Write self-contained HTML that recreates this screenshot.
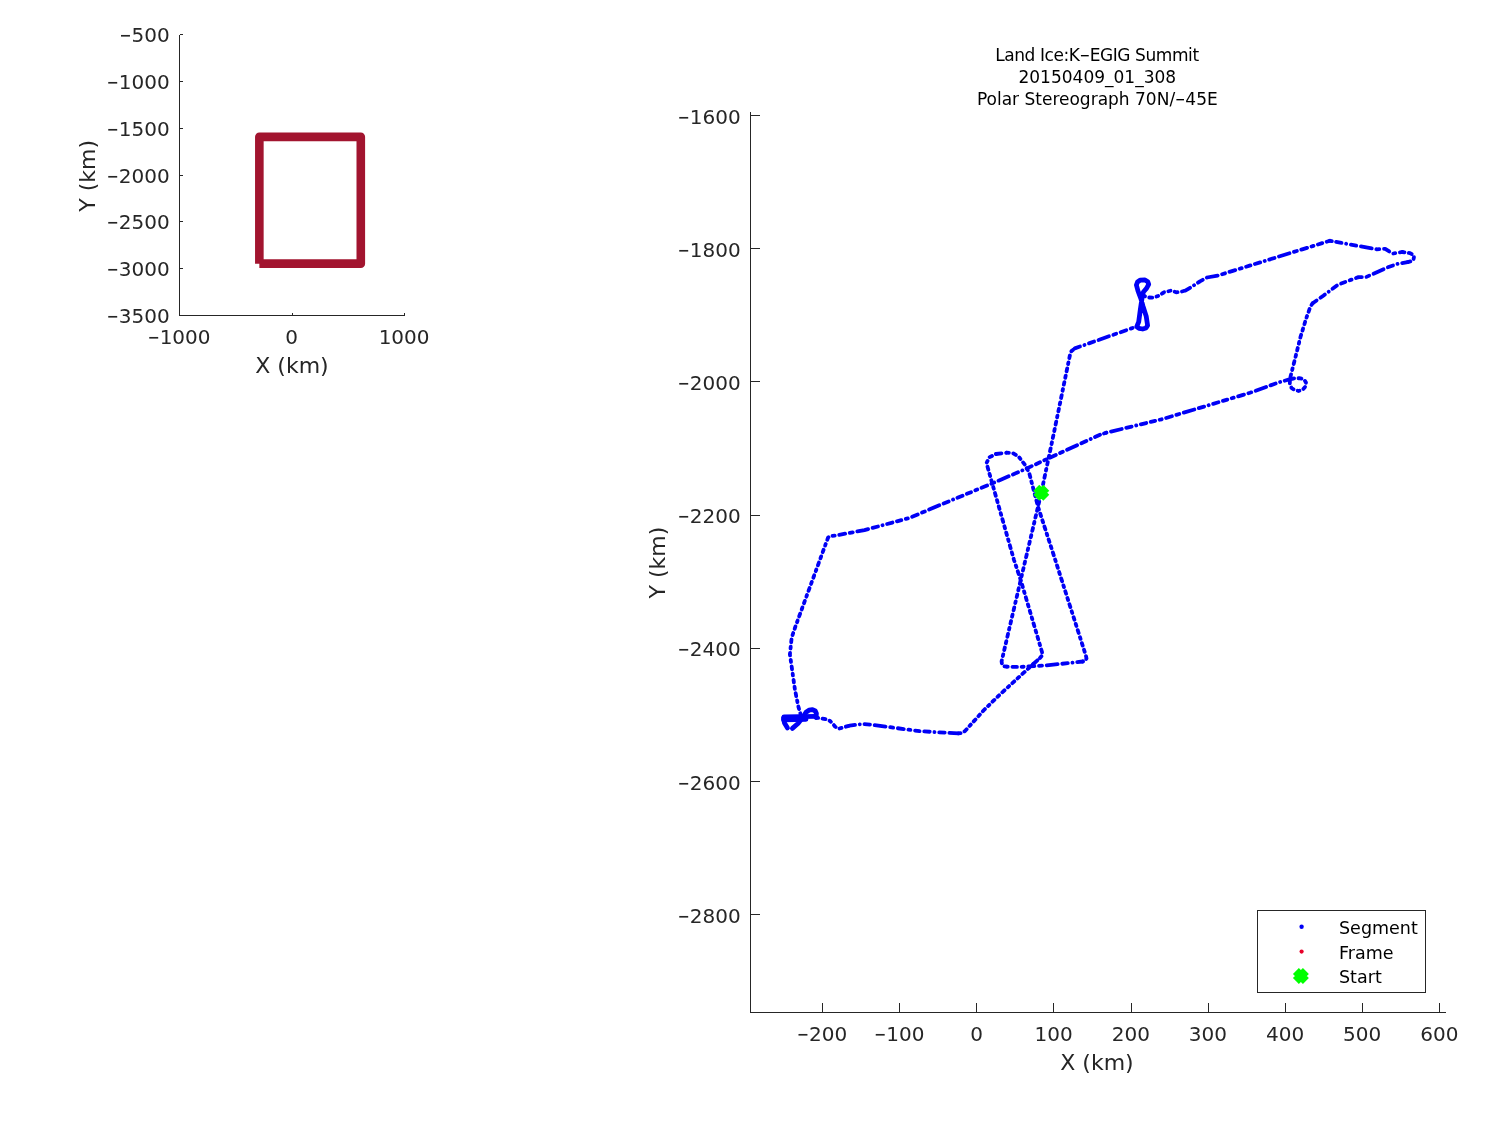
<!DOCTYPE html>
<html lang="en"><head><meta charset="utf-8"><title>Land Ice: K-EGIG Summit 20150409_01_308</title>
<style>
html,body{margin:0;padding:0;background:#fff;}
body{width:1500px;height:1125px;overflow:hidden;}
svg{display:block;}
text{font-family:"DejaVu Sans", "Liberation Sans", sans-serif;fill:#262626;}
.tk{font-size:20px;}
.lb{font-size:22px;}
.tt{font-size:17px;fill:#000;}
.lg{font-size:17.5px;fill:#000;}
.ax{stroke:#262626;stroke-width:1;fill:none;shape-rendering:crispEdges;}
.tl{fill:none;stroke:#0000f6;stroke-width:3.8;stroke-linecap:round;stroke-linejoin:round;stroke-dasharray:5.5 4.7 0.1 4.7 5.5 4.7 11 4.7 3 4.7 6 4.7 2 4.7 4.5 4.7;}
.ts{fill:none;stroke:#0000f6;stroke-width:3.8;stroke-linecap:round;stroke-linejoin:round;stroke-dasharray:2.2 4.4 3 4.4 1.8 4.4 2.6 4.4;}
.trs{fill:none;stroke:#0000f6;stroke-width:4.8;stroke-linecap:round;stroke-linejoin:round;}
</style></head><body>
<svg width="1500" height="1125" viewBox="0 0 1500 1125">
<rect x="0" y="0" width="1500" height="1125" fill="#ffffff"/>
<g id="overview">
<path class="ax" d="M179.5,34.5 V315.5 H404.5"/>
<path class="ax" d="M179.5,34.5 h3"/>
<text class="tk" x="169.7" y="42.0" text-anchor="end"><tspan textLength="12.0" lengthAdjust="spacingAndGlyphs">−</tspan>500</text>
<path class="ax" d="M179.5,81.3 h3"/>
<text class="tk" x="169.7" y="88.8" text-anchor="end"><tspan textLength="12.0" lengthAdjust="spacingAndGlyphs">−</tspan>1000</text>
<path class="ax" d="M179.5,128.2 h3"/>
<text class="tk" x="169.7" y="135.7" text-anchor="end"><tspan textLength="12.0" lengthAdjust="spacingAndGlyphs">−</tspan>1500</text>
<path class="ax" d="M179.5,175.0 h3"/>
<text class="tk" x="169.7" y="182.5" text-anchor="end"><tspan textLength="12.0" lengthAdjust="spacingAndGlyphs">−</tspan>2000</text>
<path class="ax" d="M179.5,221.8 h3"/>
<text class="tk" x="169.7" y="229.3" text-anchor="end"><tspan textLength="12.0" lengthAdjust="spacingAndGlyphs">−</tspan>2500</text>
<path class="ax" d="M179.5,268.7 h3"/>
<text class="tk" x="169.7" y="276.2" text-anchor="end"><tspan textLength="12.0" lengthAdjust="spacingAndGlyphs">−</tspan>3000</text>
<path class="ax" d="M179.5,315.5 h3"/>
<text class="tk" x="169.7" y="323.0" text-anchor="end"><tspan textLength="12.0" lengthAdjust="spacingAndGlyphs">−</tspan>3500</text>
<path class="ax" d="M179.5,315.5 v-3"/>
<text class="tk" x="179.1" y="344" text-anchor="middle"><tspan textLength="12.0" lengthAdjust="spacingAndGlyphs">−</tspan>1000</text>
<path class="ax" d="M292.0,315.5 v-3"/>
<text class="tk" x="291.6" y="344" text-anchor="middle">0</text>
<path class="ax" d="M404.5,315.5 v-3"/>
<text class="tk" x="404.1" y="344" text-anchor="middle">1000</text>
<text class="lb" x="292.0" y="373.3" text-anchor="middle">X (km)</text>
<text class="lb" transform="translate(94.8,175.8) rotate(-90)" text-anchor="middle">Y (km)</text>
<path d="M259.35,263.65 V136.85 H360.8 V263.65 H259.35" fill="none" stroke="#a2142f" stroke-width="8.6" stroke-linejoin="round" stroke-linecap="butt"/>
</g>
<g id="main">
<path class="ax" d="M750.5,112 V1012.5 H1446"/>
<path class="ax" d="M750.5,115.8 h9.5"/>
<text class="tk" x="740.7" y="124.0" text-anchor="end"><tspan textLength="12.0" lengthAdjust="spacingAndGlyphs">−</tspan>1600</text>
<path class="ax" d="M750.5,248.8 h9.5"/>
<text class="tk" x="740.7" y="257.1" text-anchor="end"><tspan textLength="12.0" lengthAdjust="spacingAndGlyphs">−</tspan>1800</text>
<path class="ax" d="M750.5,381.9 h9.5"/>
<text class="tk" x="740.7" y="390.2" text-anchor="end"><tspan textLength="12.0" lengthAdjust="spacingAndGlyphs">−</tspan>2000</text>
<path class="ax" d="M750.5,515.0 h9.5"/>
<text class="tk" x="740.7" y="523.3" text-anchor="end"><tspan textLength="12.0" lengthAdjust="spacingAndGlyphs">−</tspan>2200</text>
<path class="ax" d="M750.5,648.1 h9.5"/>
<text class="tk" x="740.7" y="656.4" text-anchor="end"><tspan textLength="12.0" lengthAdjust="spacingAndGlyphs">−</tspan>2400</text>
<path class="ax" d="M750.5,781.2 h9.5"/>
<text class="tk" x="740.7" y="789.5" text-anchor="end"><tspan textLength="12.0" lengthAdjust="spacingAndGlyphs">−</tspan>2600</text>
<path class="ax" d="M750.5,914.3 h9.5"/>
<text class="tk" x="740.7" y="922.6" text-anchor="end"><tspan textLength="12.0" lengthAdjust="spacingAndGlyphs">−</tspan>2800</text>
<path class="ax" d="M822.5,1012.5 v-9.5"/>
<text class="tk" x="822.2" y="1040.9" text-anchor="middle"><tspan textLength="12.0" lengthAdjust="spacingAndGlyphs">−</tspan>200</text>
<path class="ax" d="M899.7,1012.5 v-9.5"/>
<text class="tk" x="899.4" y="1040.9" text-anchor="middle"><tspan textLength="12.0" lengthAdjust="spacingAndGlyphs">−</tspan>100</text>
<path class="ax" d="M976.8,1012.5 v-9.5"/>
<text class="tk" x="976.5" y="1040.9" text-anchor="middle">0</text>
<path class="ax" d="M1053.9,1012.5 v-9.5"/>
<text class="tk" x="1053.6" y="1040.9" text-anchor="middle">100</text>
<path class="ax" d="M1131.1,1012.5 v-9.5"/>
<text class="tk" x="1130.8" y="1040.9" text-anchor="middle">200</text>
<path class="ax" d="M1208.2,1012.5 v-9.5"/>
<text class="tk" x="1207.9" y="1040.9" text-anchor="middle">300</text>
<path class="ax" d="M1285.4,1012.5 v-9.5"/>
<text class="tk" x="1285.1" y="1040.9" text-anchor="middle">400</text>
<path class="ax" d="M1362.5,1012.5 v-9.5"/>
<text class="tk" x="1362.2" y="1040.9" text-anchor="middle">500</text>
<path class="ax" d="M1439.6,1012.5 v-9.5"/>
<text class="tk" x="1439.3" y="1040.9" text-anchor="middle">600</text>
<text class="lb" x="1097.0" y="1070" text-anchor="middle">X (km)</text>
<text class="lb" transform="translate(664.7,562.5) rotate(-90)" text-anchor="middle">Y (km)</text>
<text class="tt" x="1096.9" y="60.7" text-anchor="middle" style="letter-spacing:-0.42px">Land Ice:K<tspan textLength="10.2" lengthAdjust="spacingAndGlyphs">−</tspan>EGIG Summit</text>
<text class="tt" x="1097.3" y="82.9" text-anchor="middle">20150409_01_308</text>
<text class="tt" x="1097.3" y="104.7" text-anchor="middle">Polar Stereograph 70N/<tspan textLength="10.2" lengthAdjust="spacingAndGlyphs">−</tspan>45E</text>
<g id="track">
<polyline class="ts" points="1006.7,666.7 1004.0,666.3 1002.0,664.5 1001.6,661.3 1020.7,580.0 1038.0,506.7 1041.3,492.7 1054.5,430.0 1070.0,354.8 1071.5,351.0 1074.8,348.4"/>
<polyline class="tl" points="1074.8,348.4 1136.7,326.5"/>
<polyline class="ts" points="1143.0,295.5 1145.5,296.5 1149.0,297.5 1153.3,297.7 1159.0,295.6 1164.0,292.3 1171.1,290.6 1176.1,292.3 1180.0,292.0 1185.3,290.6"/>
<polyline class="tl" points="1185.3,290.6 1192.5,286.3 1200.0,281.3 1207.0,277.5 1218.0,275.5 1329.7,240.8"/>
<polyline class="ts" points="1329.7,240.8 1336.1,241.9"/>
<polyline class="tl" points="1336.1,241.9 1376.7,249.3 1385.2,248.8 1392.7,253.6 1402.3,252.0"/>
<polyline class="ts" points="1402.3,252.0 1409.7,253.1 1413.0,254.5 1414.0,256.8 1413.5,259.5 1411.9,261.1 1407.6,262.1"/>
<polyline class="tl" points="1407.6,262.1 1398.0,263.7 1387.3,267.5 1366.0,277.1 1358.5,277.1 1338.3,284.5 1323.3,295.7 1312.7,303.2"/>
<polyline class="ts" points="1312.7,303.2 1310.5,306.4 1306.3,318.1 1300.4,337.3 1296.0,355.0 1290.0,378.6 1289.8,384.0 1291.5,388.0 1294.8,390.0 1298.5,391.0 1302.5,389.8 1305.5,386.5 1306.0,382.5 1304.0,379.5 1300.0,378.2 1295.0,378.3 1290.0,379.2"/>
<polyline class="tl" points="1290.0,379.2 1278.8,382.4 1250.0,392.8 1162.0,419.2 1106.0,432.8"/>
<polyline class="ts" points="1106.0,432.8 1100.0,434.7"/>
<polyline class="tl" points="1100.0,434.7 1048.0,458.5 1026.7,468.5 990.7,484.0 940.0,505.0 909.3,518.0 864.5,530.1 834.7,535.7"/>
<polyline class="ts" points="834.7,535.7 830.0,536.0 828.1,537.5 795.5,626.3 791.7,637.5 789.9,654.3 795.0,690.0 798.3,706.5 800.5,714.0 801.0,718.0"/>
<polyline class="ts" points="816.0,717.6 821.0,718.3 827.2,719.5 830.0,721.0 832.0,722.8 835.0,726.5 838.4,728.8 843.0,727.5 849.6,725.6"/>
<polyline class="tl" points="849.6,725.6 862.4,724.0 872.0,724.8 896.0,728.0 920.0,731.2 958.4,733.4"/>
<polyline class="ts" points="958.4,733.4 962.4,732.8 965.0,731.0 984.0,710.0 1000.0,694.4 1033.3,664.0"/>
<polyline class="tl" points="1033.3,664.0 1040.0,658.0"/>
<polyline class="ts" points="1040.0,658.0 1042.5,655.0 1042.0,652.0 1020.7,580.0 1014.0,560.0 987.0,465.0 986.7,462.7 989.3,457.3 996.0,454.0"/>
<polyline class="tl" points="996.0,454.0 1006.7,452.7"/>
<polyline class="ts" points="1006.7,452.7 1013.3,453.3 1018.7,456.7 1025.3,465.3 1029.3,473.3 1038.0,506.7 1055.3,560.0 1086.0,656.0 1086.5,658.5 1085.5,660.5 1082.7,661.5"/>
<polyline class="tl" points="1082.7,661.5 1070.0,663.0 1046.7,665.3 1020.0,667.0 1006.7,666.7"/>
<polyline class="trs" points="1136.8,326.7 1139.0,328.3 1142.7,329.0 1146.0,328.0 1147.6,325.5 1146.2,316.2 1143.0,306.2 1140.8,298.4 1138.0,291.0 1136.4,285.0 1137.5,282.0 1140.0,280.2 1145.0,280.0 1147.8,281.8 1148.7,284.3 1146.5,288.4 1143.4,292.0 1142.0,298.4 1140.3,309.8 1138.7,321.9 1136.8,326.7"/>
<polyline class="trs" points="784.0,716.8 816.0,716.4"/>
<polyline class="trs" points="783.5,719.8 806.0,719.4"/>
<polyline class="trs" points="783.5,718.0 784.5,723.0 787.5,728.0"/>
<polyline class="trs" points="792.4,728.4 798.0,723.5 803.0,717.0 806.0,712.3 809.0,710.2 812.5,709.6 815.3,711.0 816.4,713.5 816.0,717.5"/>
</g>
<path d="M1036.3,487.7 L1046.3,497.7 M1036.3,497.7 L1046.3,487.7" stroke="#00ff00" stroke-width="8.4" fill="none" stroke-linecap="butt"/>
<rect class="ax" x="1257.5" y="910.5" width="168" height="82" fill="#fff" style="fill:#fff"/>
<circle cx="1301.6" cy="926.8" r="2.2" fill="#0000f6"/>
<circle cx="1301.6" cy="951.6" r="2.1" fill="#e8002a"/>
<path d="M1295.9,971.0 L1305.9,981.0 M1295.9,981.0 L1305.9,971.0" stroke="#00ff00" stroke-width="8.4" fill="none" stroke-linecap="butt"/>
<text class="lg" x="1339" y="934">Segment</text>
<text class="lg" x="1339" y="958.7">Frame</text>
<text class="lg" x="1339" y="982.9">Start</text>
</g>
</svg></body></html>
